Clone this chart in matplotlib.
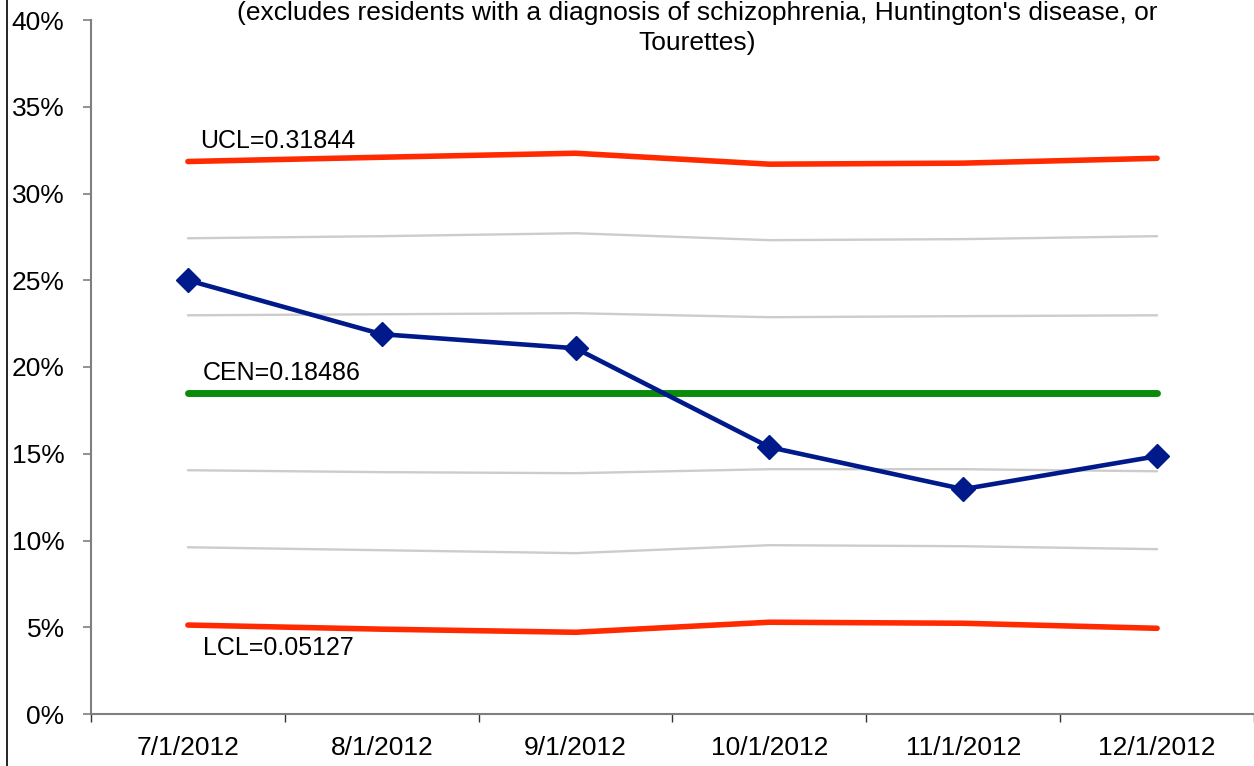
import numpy as np
import matplotlib
matplotlib.use("Agg")
import matplotlib.pyplot as plt
from matplotlib.lines import Line2D
from matplotlib.ticker import FuncFormatter, FixedLocator

# --- DATA ---
dates = ["7/1/2012", "8/1/2012", "9/1/2012", "10/1/2012", "11/1/2012", "12/1/2012"]
rate = [0.2500, 0.2189, 0.2108, 0.1538, 0.1296, 0.1486]
cen = [0.18486] * 6
ucl = [0.31844, 0.3209, 0.3232, 0.3169, 0.3175, 0.3203]
lcl = [0.05127, 0.0489, 0.0471, 0.0529, 0.0523, 0.0494]
plus2 = [0.2742, 0.2754, 0.2771, 0.2731, 0.2737, 0.2754]
plus1 = [0.2298, 0.2304, 0.2310, 0.2287, 0.2293, 0.2298]
minus1 = [0.1405, 0.1394, 0.1388, 0.1411, 0.1411, 0.1399]
minus2 = [0.0961, 0.0944, 0.0927, 0.0973, 0.0967, 0.0950]
y_ticks = [0.0, 0.05, 0.10, 0.15, 0.20, 0.25, 0.30, 0.35, 0.40]

title_lines = "(excludes residents with a diagnosis of schizophrenia, Huntington's disease, or\nTourettes)"

plt.rcParams['font.family'] = ['Liberation Sans', 'DejaVu Sans']

fig = plt.figure(figsize=(12.54, 7.66), dpi=100)
fig.patch.set_facecolor('white')
ax = fig.add_axes([91 / 1254, 1 - 714 / 766, 1 - 91 / 1254, (714 - 20) / 766])

x = np.arange(len(dates))

# sigma zone lines (gray)
for series in (plus2, plus1, minus1, minus2):
    ax.plot(x, series, color='#cccccc', lw=1.7, solid_capstyle='round', zorder=2)

ax.plot(x, cen, color='#0a8c0a', lw=5, solid_capstyle='round', zorder=3)
ax.plot(x, ucl, color='#ff2a00', lw=4, solid_capstyle='round', zorder=3)
ax.plot(x, lcl, color='#ff2a00', lw=4, solid_capstyle='round', zorder=3)
ax.plot(x, rate, color='#001a8c', lw=3.3, marker='D', markersize=12,
        markerfacecolor='#001a8c', markeredgecolor='#001a8c', zorder=4)

# control limit labels
ax.annotate(f"UCL={ucl[0]:.5f}", xy=(0, ucl[0]), xytext=(9, 6), textcoords='offset points',
            ha='left', va='bottom', fontsize=18)
ax.annotate(f"CEN={cen[0]:.5f}", xy=(0, cen[0]), xytext=(11, 6), textcoords='offset points',
            ha='left', va='bottom', fontsize=18)
ax.annotate(f"LCL={lcl[0]:.5f}", xy=(0, lcl[0]), xytext=(11, -8), textcoords='offset points',
            ha='left', va='top', fontsize=18)

ax.set_xlim(-0.5, len(dates) - 0.5)
ax.set_ylim(0, 0.40)
ax.set_yticks(y_ticks)
ax.yaxis.set_major_formatter(FuncFormatter(lambda v, p: f"{v * 100:.0f}%"))
ax.set_xticks(x)
ax.set_xticklabels(dates)
ax.xaxis.set_minor_locator(FixedLocator(np.arange(-0.5, len(dates), 1.0)))

ax.tick_params(axis='x', which='major', length=0, pad=16, labelsize=19)
ax.tick_params(axis='x', which='minor', length=6, width=1, color='#333333', direction='out')
ax.tick_params(axis='y', length=6, width=1.2, color='#7f7f7f', pad=13, labelsize=19)

for side in ('top', 'right'):
    ax.spines[side].set_visible(False)
for side in ('left', 'bottom'):
    ax.spines[side].set_color('#7f7f7f')
    ax.spines[side].set_linewidth(1.5)

fig.text(697 / 1254, 1 - 1 / 766, title_lines, ha='center', va='top', fontsize=19,
         linespacing=1.3)

# left border line of the original chart frame
fig.add_artist(Line2D([7 / 1254, 7 / 1254], [0, 1], color='black', lw=1.2,
                      transform=fig.transFigure))

fig.savefig('out.png', dpi=100)
